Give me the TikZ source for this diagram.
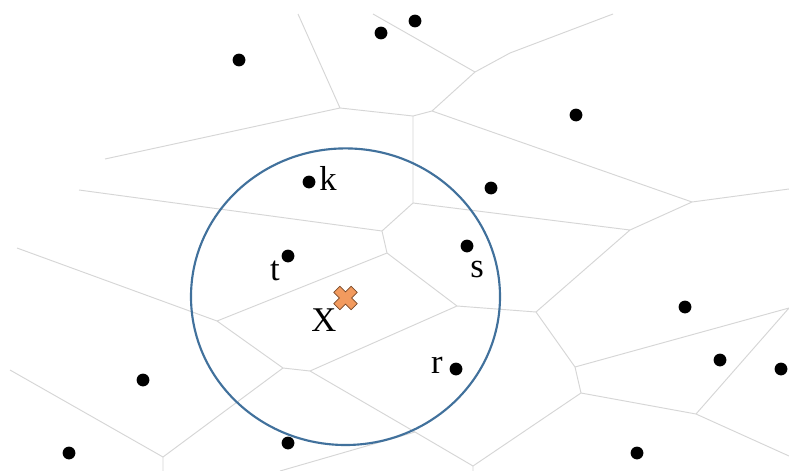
\documentclass[tikz,border=0pt]{standalone}
\usepackage{fontspec}
\setmainfont{Liberation Serif}
\definecolor{edgegray}{HTML}{D6D6D6}
\definecolor{ringblue}{HTML}{41719C}
\definecolor{crossfill}{HTML}{F29A5E}
\definecolor{crossline}{HTML}{7A4A2A}
\begin{document}
\begin{tikzpicture}[x=0.75pt,y=-0.75pt,
  vedge/.style={draw=edgegray,line width=0.7pt},
  site/.style={circle,fill=black,inner sep=0pt,minimum size=9.6pt},
  lbl/.style={font=\fontsize{26}{30}\selectfont,anchor=base,inner sep=0pt}]
\useasboundingbox (0,0) rectangle (789,471);
\fill[white] (0,0) rectangle (789,471);
% Voronoi vertices
\coordinate (A) at (340,108);
\coordinate (B) at (413,116);
\coordinate (C) at (432,111);
\coordinate (D) at (475,72);
\coordinate (E) at (510,53);
\coordinate (F) at (413,203);
\coordinate (G) at (382,231);
\coordinate (H) at (387,253);
\coordinate (I) at (217,321);
\coordinate (J) at (457,306);
\coordinate (K) at (536,312);
\coordinate (L) at (630,230);
\coordinate (M) at (692,202);
\coordinate (N) at (310,371);
\coordinate (O) at (283,368);
\coordinate (P) at (163,457);
\coordinate (Q) at (415,432);
\coordinate (R) at (473,466);
\coordinate (S) at (575,367);
\coordinate (T) at (581,393);
\coordinate (U) at (696,414);
% free ends
\coordinate (e1) at (298,14);
\coordinate (e2) at (105,159);
\coordinate (e3) at (373,14);
\coordinate (e4) at (613,14);
\coordinate (e5) at (789,189);
\coordinate (e6) at (79,190);
\coordinate (e7) at (17,248);
\coordinate (e8) at (10,370);
\coordinate (e9) at (163,471);
\coordinate (e10) at (280,471);
\coordinate (e11) at (789,308);
\coordinate (e12) at (789,456);
\coordinate (e13) at (473,471);
% Voronoi edges
\path[vedge] (e1)--(A) (A)--(e2) (A)--(B) (B)--(C) (C)--(D) (D)--(e3)
  (D)--(E)--(e4) (B)--(F) (F)--(L) (F)--(G) (C)--(M) (M)--(e5) (M)--(L)
  (L)--(K) (e6)--(G) (G)--(H) (H)--(I) (H)--(J) (J)--(K) (J)--(N)
  (N)--(O) (O)--(I) (I)--(e7) (O)--(P) (P)--(e9) (P)--(e8)
  (N)--(Q) (Q)--(R) (Q)--(e10) (R)--(e13) (R)--(T) (K)--(S) (S)--(e11)
  (S)--(T) (T)--(U) (U)--(e11) (U)--(e12);
% ring
\draw[ringblue,line width=1.6pt] (345.5,296.7) ellipse [x radius=154.5, y radius=148.3];
% sites
\node[site] (s1) at (239,60) {};
\node[site] (s2) at (381,33) {};
\node[site] (s3) at (415,21) {};
\node[site] (s4) at (576,115) {};
\node[site] (s5) at (491,188) {};
\node[site] (sk) at (309,182) {};
\node[site] (st) at (288,256) {};
\node[site] (ss) at (467,246) {};
\node[site] (sr) at (456,369) {};
\node[site] (s6) at (143,380) {};
\node[site] (s7) at (69,453) {};
\node[site] (s8) at (288,443) {};
\node[site] (s9) at (637,453) {};
\node[site] (s10) at (685,307) {};
\node[site] (s11) at (720,360) {};
\node[site] (s12) at (781,369) {};
% labels
\node[lbl] (lk) at (328,190) {k};
\node[lbl] (lt) at (275,280) {t};
\node[lbl] (ls) at (477,277) {s};
\node[lbl] (lr) at (437,373) {r};
\node[lbl] (lx) at (324,331) {X};
% query cross
\begin{scope}[shift={(345.5,298)},rotate=45]
\filldraw[fill=crossfill,draw=crossline,line width=0.5pt]
  (4.3,12.3)--(-4.3,12.3)--(-4.3,4.3)--(-12.3,4.3)--(-12.3,-4.3)--(-4.3,-4.3)
  --(-4.3,-12.3)--(4.3,-12.3)--(4.3,-4.3)--(12.3,-4.3)--(12.3,4.3)--(4.3,4.3)--cycle;
\end{scope}
\end{tikzpicture}
\end{document}
